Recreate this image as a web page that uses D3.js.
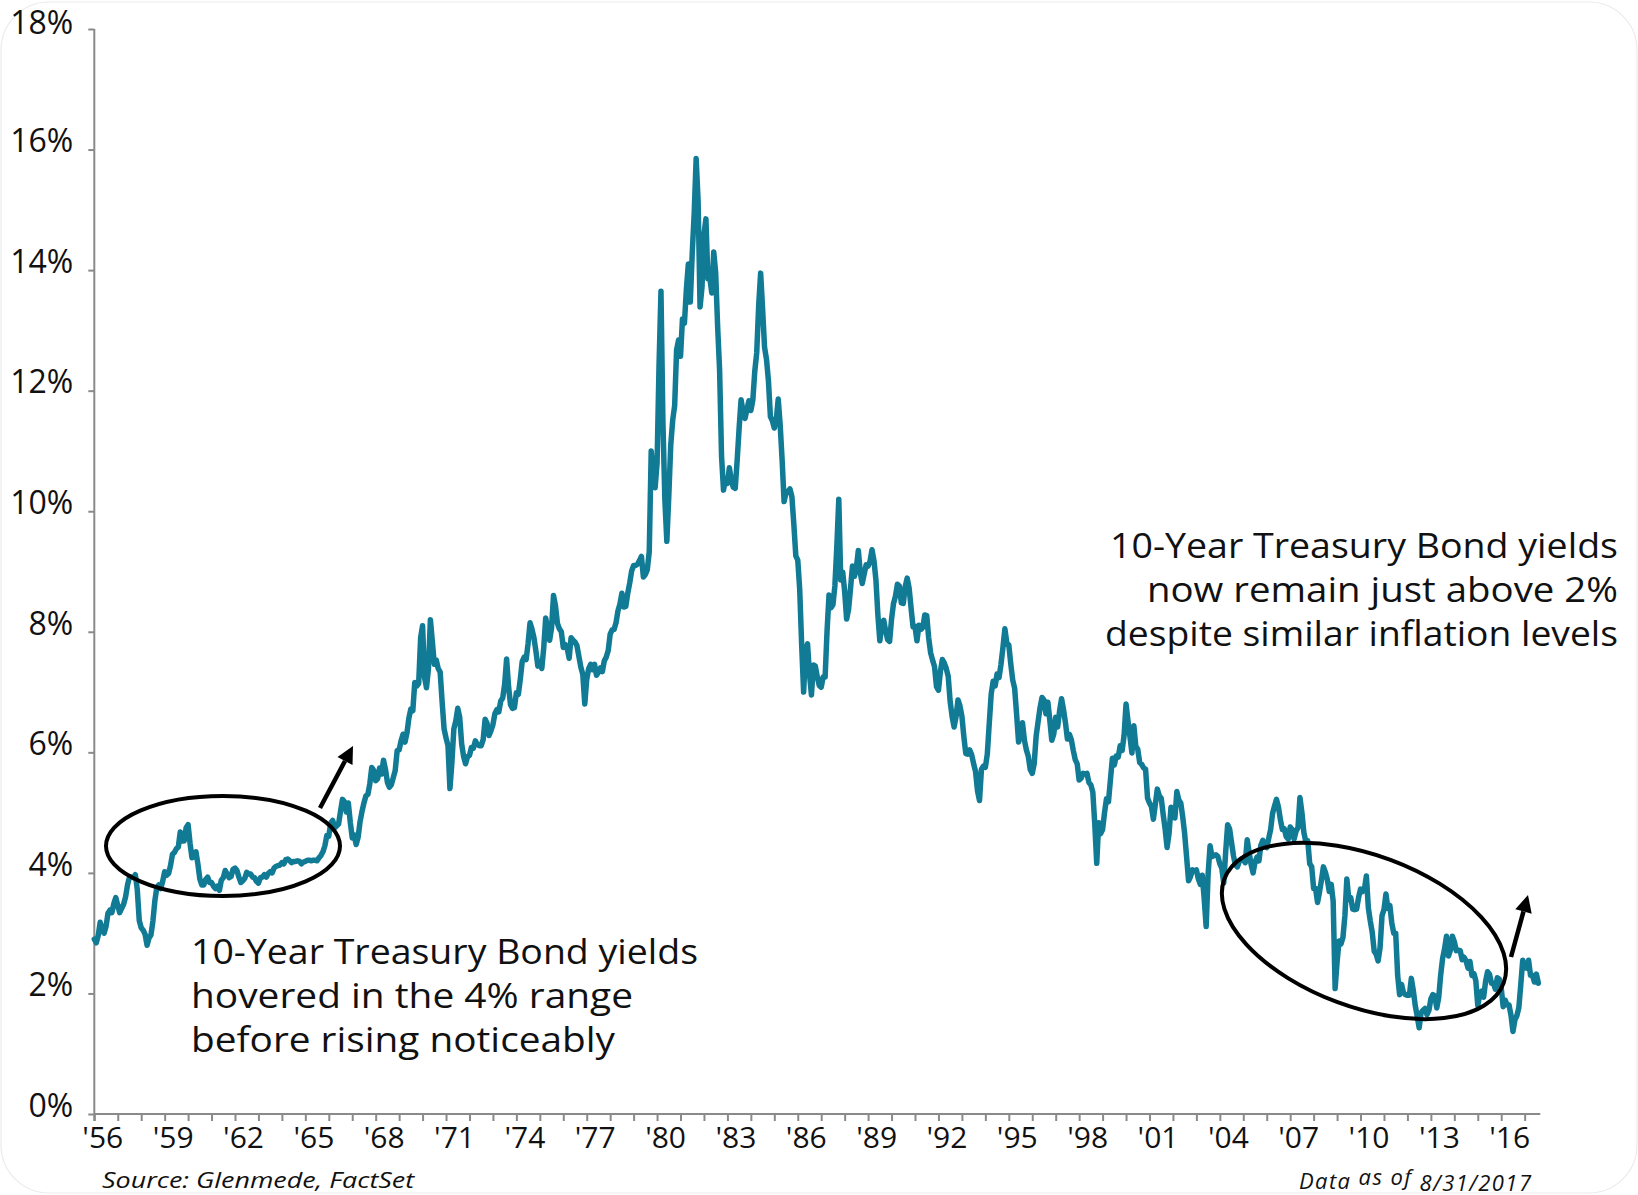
<!DOCTYPE html>
<html>
<head>
<meta charset="utf-8">
<script src="https://cdn.jsdelivr.net/npm/d3@7"></script>
<style>
  html, body { margin: 0; padding: 0; background: #ffffff; }
  svg { display: block; }
  text { font-family: "Open Sans", "DejaVu Sans", sans-serif; fill: #111; }
</style>
</head>
<body>
<script>
// 10-Year Treasury yield (%), monthly, starting January 1956
const yields1950s = [
  2.90, 2.84, 2.96, 3.18, 3.07, 3.00, 3.11, 3.33, 3.38, 3.34, 3.49, 3.59, // 1956
  3.46, 3.34, 3.41, 3.48, 3.60, 3.80, 3.93, 3.93, 3.92, 3.97, 3.72, 3.21, // 1957
  3.09, 3.05, 2.98, 2.80, 2.92, 2.97, 3.20, 3.54, 3.76, 3.80, 3.74, 3.86, // 1958
  4.02, 3.96, 3.99, 4.12, 4.31, 4.34, 4.40, 4.43, 4.68, 4.53, 4.53, 4.75  // 1959
];
const yields1960s = [
  4.80, 4.49, 4.25, 4.28, 4.35, 4.15, 3.90, 3.80, 3.80, 3.89, 3.93, 3.84, // 1960
  3.84, 3.78, 3.74, 3.78, 3.71, 3.88, 3.92, 4.04, 3.98, 3.92, 3.94, 4.06, // 1961
  4.08, 4.04, 3.93, 3.84, 3.87, 3.91, 4.01, 3.98, 3.98, 3.93, 3.92, 3.86, // 1962
  3.83, 3.92, 3.93, 3.97, 3.93, 3.99, 4.02, 4.00, 4.08, 4.11, 4.12, 4.13, // 1963
  4.17, 4.15, 4.22, 4.23, 4.20, 4.17, 4.19, 4.19, 4.20, 4.19, 4.15, 4.18, // 1964
  4.19, 4.21, 4.21, 4.20, 4.21, 4.21, 4.20, 4.25, 4.29, 4.35, 4.45, 4.62, // 1965
  4.61, 4.83, 4.87, 4.75, 4.78, 4.81, 5.02, 5.22, 5.18, 5.01, 5.16, 4.84, // 1966
  4.58, 4.63, 4.47, 4.59, 4.85, 5.02, 5.16, 5.28, 5.30, 5.48, 5.75, 5.70, // 1967
  5.53, 5.56, 5.74, 5.64, 5.87, 5.72, 5.50, 5.42, 5.46, 5.58, 5.70, 6.03, // 1968
  6.04, 6.19, 6.30, 6.17, 6.32, 6.57, 6.72, 6.69, 7.16, 7.10, 7.14, 7.90  // 1969
];
const yields1970s = [
  8.10, 7.24, 7.07, 7.39, 8.20, 7.84, 7.46, 7.53, 7.39, 7.33, 6.84, 6.39, // 1970
  6.24, 6.11, 5.40, 5.83, 6.39, 6.52, 6.73, 6.58, 6.14, 5.93, 5.81, 5.93, // 1971
  5.95, 6.08, 6.07, 6.19, 6.13, 6.11, 6.11, 6.21, 6.55, 6.48, 6.28, 6.36, // 1972
  6.46, 6.64, 6.71, 6.67, 6.85, 6.90, 7.13, 7.55, 7.09, 6.79, 6.73, 6.74, // 1973
  6.99, 6.96, 7.21, 7.51, 7.58, 7.54, 7.81, 8.15, 8.04, 7.90, 7.68, 7.43, // 1974
  7.50, 7.39, 7.73, 8.23, 8.06, 7.86, 8.06, 8.60, 8.43, 8.14, 8.05, 8.00, // 1975
  7.74, 7.79, 7.73, 7.56, 7.90, 7.86, 7.83, 7.77, 7.59, 7.41, 7.29, 6.80, // 1976
  7.21, 7.39, 7.46, 7.37, 7.46, 7.28, 7.33, 7.40, 7.34, 7.52, 7.58, 7.69, // 1977
  7.96, 8.03, 8.04, 8.15, 8.35, 8.46, 8.64, 8.41, 8.42, 8.64, 8.81, 9.01, // 1978
  9.10, 9.10, 9.12, 9.18, 9.25, 8.91, 8.95, 9.03, 9.33, 11.0, 10.65, 10.39 // 1979
];
const yields1980s = [
  10.80, 12.41, 13.65, 11.47, 10.18, 9.50, 10.25, 11.10, 11.51, 11.75, 12.68, 12.84, // 1980
  12.57, 13.19, 13.12, 13.68, 14.10, 13.47, 14.28, 14.94, 15.85, 15.15, 13.39, 13.72, // 1981
  14.59, 14.85, 13.86, 13.87, 13.62, 14.30, 13.95, 13.06, 12.34, 10.91, 10.35, 10.54, // 1982
  10.46, 10.72, 10.51, 10.40, 10.38, 10.85, 11.38, 11.85, 11.65, 11.54, 11.69, 11.83, // 1983
  11.67, 11.84, 12.32, 12.63, 13.41, 13.95, 13.36, 12.72, 12.52, 12.16, 11.57, 11.50, // 1984
  11.38, 11.51, 11.86, 11.43, 10.85, 10.16, 10.31, 10.33, 10.37, 10.24, 9.78, 9.26,   // 1985
  9.19, 8.70, 7.78, 7.00, 7.71, 7.80, 7.30, 6.95, 7.45, 7.43, 7.25, 7.11,             // 1986
  7.08, 7.25, 7.25, 8.02, 8.61, 8.40, 8.45, 8.76, 9.42, 10.20, 8.86, 8.99,            // 1987
  8.67, 8.21, 8.37, 8.72, 9.09, 8.92, 9.06, 9.35, 8.98, 8.80, 8.96, 9.11,             // 1988
  9.09, 9.17, 9.36, 9.18, 8.86, 8.28, 7.85, 8.11, 8.19, 8.01, 7.87, 7.84              // 1989
];
const yields1990s = [
  8.21, 8.47, 8.59, 8.79, 8.76, 8.48, 8.47, 8.75, 8.89, 8.72, 8.39, 8.08, // 1990
  8.09, 7.85, 8.11, 8.04, 8.07, 8.28, 8.27, 7.90, 7.65, 7.53, 7.42, 7.09, // 1991
  7.03, 7.34, 7.54, 7.48, 7.39, 7.26, 6.84, 6.59, 6.42, 6.59, 6.87, 6.77, // 1992
  6.60, 6.26, 5.98, 5.97, 6.04, 5.96, 5.81, 5.68, 5.36, 5.20, 5.72, 5.77, // 1993
  5.75, 5.97, 6.48, 6.97, 7.18, 7.10, 7.30, 7.24, 7.46, 7.74, 8.05, 7.81, // 1994
  7.78, 7.47, 7.20, 7.06, 6.63, 6.17, 6.28, 6.49, 6.20, 6.04, 5.93, 5.71, // 1995
  5.65, 5.81, 6.27, 6.51, 6.74, 6.91, 6.87, 6.64, 6.83, 6.53, 6.20, 6.30, // 1996
  6.58, 6.42, 6.69, 6.89, 6.71, 6.49, 6.22, 6.30, 6.21, 6.03, 5.88, 5.81, // 1997
  5.54, 5.57, 5.65, 5.64, 5.65, 5.50, 5.46, 5.34, 4.81, 4.16, 4.83, 4.65, // 1998
  4.72, 5.00, 5.23, 5.18, 5.54, 5.90, 5.79, 5.94, 5.92, 6.11, 6.03, 6.28  // 1999
];
const yields2000s = [
  6.80, 6.52, 6.26, 5.99, 6.44, 6.10, 6.05, 5.83, 5.80, 5.74, 5.72, 5.24, // 2000
  5.16, 5.10, 4.89, 5.14, 5.39, 5.28, 5.24, 4.97, 4.73, 4.42, 4.65, 5.09, // 2001
  5.04, 4.91, 5.35, 5.21, 5.16, 4.93, 4.65, 4.26, 3.87, 3.94, 4.05, 4.03, // 2002
  4.05, 3.90, 3.81, 3.96, 3.57, 3.11, 3.98, 4.45, 4.27, 4.29, 4.30, 4.27, // 2003
  4.15, 4.08, 3.83, 4.35, 4.80, 4.73, 4.50, 4.28, 4.13, 4.10, 4.19, 4.23, // 2004
  4.22, 4.17, 4.55, 4.34, 4.14, 4.00, 4.18, 4.26, 4.20, 4.46, 4.54, 4.47, // 2005
  4.42, 4.57, 4.72, 4.99, 5.11, 5.22, 5.09, 4.88, 4.72, 4.73, 4.60, 4.56, // 2006
  4.76, 4.72, 4.56, 4.69, 4.75, 5.25, 5.00, 4.67, 4.52, 4.53, 4.15, 4.10, // 2007
  3.74, 3.74, 3.51, 3.68, 3.88, 4.10, 4.01, 3.89, 3.69, 3.81, 3.53, 2.08, // 2008
  2.52, 2.87, 2.82, 2.93, 3.29, 3.90, 3.56, 3.59, 3.40, 3.39, 3.40, 3.59  // 2009
];
const yields2010s = [
  3.73, 3.69, 3.73, 3.95, 3.42, 3.20, 3.01, 2.70, 2.65, 2.54, 2.76, 3.29, // 2010
  3.39, 3.65, 3.41, 3.46, 3.17, 3.00, 3.00, 2.30, 1.98, 2.15, 2.01, 1.98, // 2011
  1.97, 1.97, 2.25, 2.05, 1.80, 1.62, 1.43, 1.68, 1.72, 1.75, 1.65, 1.72, // 2012
  1.91, 1.98, 1.96, 1.76, 1.93, 2.30, 2.58, 2.74, 2.95, 2.62, 2.72, 2.95, // 2013
  2.86, 2.71, 2.72, 2.71, 2.56, 2.60, 2.54, 2.42, 2.53, 2.30, 2.33, 2.21, // 2014
  1.80, 1.98, 2.04, 1.94, 2.20, 2.36, 2.32, 2.17, 2.17, 2.07, 2.26, 2.24, // 2015
  2.09, 1.78, 1.89, 1.81, 1.81, 1.64, 1.37, 1.56, 1.63, 1.76, 2.14, 2.55, // 2016
  2.43, 2.42, 2.55, 2.30, 2.30, 2.19, 2.32, 2.17                          // 2017 (Jan-Aug)
];
const monthlyYields = [].concat(yields1950s, yields1960s, yields1970s, yields1980s, yields1990s, yields2000s, yields2010s);
const firstYear = 1956;

// Axis ticks and labels
const pctTicks = [0, 2, 4, 6, 8, 10, 12, 14, 16, 18];
const yearTicks = d3.range(1956, 2018);
const labelYears = [1956, 1959, 1962, 1965, 1968, 1971, 1974, 1977, 1980, 1983, 1986, 1989, 1992, 1995, 1998, 2001, 2004, 2007, 2010, 2013, 2016];

// Annotation copy
const noteLeft = ["10-Year Treasury Bond yields", "hovered in the 4% range", "before rising noticeably"];
const noteRight = ["10-Year Treasury Bond yields", "now remain just above 2%", "despite similar inflation levels"];
const sourceText = "Source: Glenmede, FactSet";
const asOfParts = ["Data ", "as of ", "8/31/2017"];

// ---- layout ----
const W = 1638, H = 1195;
const lineColor = "#117a95";

const svg = d3.select("body").append("svg")
  .attr("width", W).attr("height", H)
  .attr("viewBox", `0 0 ${W} ${H}`);

svg.append("rect").attr("width", W).attr("height", H).attr("fill", "#fff");

// faint rounded frame
svg.append("rect")
  .attr("x", 1).attr("y", 2).attr("width", W - 2).attr("height", H - 4)
  .attr("rx", 48).attr("ry", 48)
  .attr("fill", "none").attr("stroke", "#ebebeb").attr("stroke-width", 1.2);

const x = d3.scaleLinear().domain([1956, 2017 + 8 / 12]).range([94.3, 1540.3]);
const y = d3.scaleLinear().domain([0, 18]).range([1114, 29]);

const series = monthlyYields.map((v, i) => ({ t: firstYear + i / 12, v }));

// y axis
const yAxis = svg.append("g")
  .attr("transform", `translate(${x.range()[0]},0)`)
  .call(d3.axisLeft(y).tickValues(pctTicks).tickSize(6).tickSizeOuter(0)
    .tickPadding(15).tickFormat(d => d + "%"));
yAxis.select(".domain").remove();
yAxis.append("line")
  .attr("x1", 0).attr("x2", 0).attr("y1", y(18)).attr("y2", y(0) + 7)
  .attr("stroke", "#8a8a8a").attr("stroke-width", 2);
yAxis.selectAll(".tick line").attr("stroke", "#8a8a8a").attr("stroke-width", 2);
yAxis.selectAll(".tick text")
  .attr("font-size", 32)
  .attr("fill", "#111")
  .attr("font-family", "Open Sans")
  .attr("transform", d => `translate(0,${d === 18 ? -6 : -8})`);

// x axis
const xAxis = svg.append("g")
  .attr("transform", `translate(0,${y(0)})`)
  .call(d3.axisBottom(x).tickValues(yearTicks).tickSize(7).tickSizeOuter(0)
    .tickFormat(d => labelYears.includes(d) ? "'" + String(d).slice(2) : ""));
xAxis.select(".domain").remove();
xAxis.append("line")
  .attr("x1", x.range()[0]).attr("x2", x.range()[1])
  .attr("y1", 0).attr("y2", 0)
  .attr("stroke", "#8a8a8a").attr("stroke-width", 2);
xAxis.selectAll(".tick line").attr("stroke", "#8a8a8a").attr("stroke-width", 2);
xAxis.selectAll(".tick text")
  .attr("font-size", 30)
  .attr("fill", "#111")
  .attr("font-family", "Open Sans")
  .attr("y", 34).attr("dy", 0)
  .attr("x", 8);

// yield line
const line = d3.line().x(d => x(d.t)).y(d => y(d.v));
svg.append("path")
  .datum(series)
  .attr("d", line)
  .attr("fill", "none")
  .attr("stroke", lineColor)
  .attr("stroke-width", 5.5)
  .attr("stroke-linejoin", "round")
  .attr("stroke-linecap", "round");

// callout ellipses
svg.append("ellipse")
  .attr("cx", 223).attr("cy", 846).attr("rx", 117).attr("ry", 50)
  .attr("fill", "none").attr("stroke", "#000").attr("stroke-width", 4);
svg.append("ellipse")
  .attr("cx", 0).attr("cy", 0).attr("rx", 149).attr("ry", 76)
  .attr("transform", "translate(1364,931) rotate(20.4)")
  .attr("fill", "none").attr("stroke", "#000").attr("stroke-width", 4);

// arrows
function arrow(x1, y1, x2, y2) {
  const dx = x2 - x1, dy = y2 - y1, len = Math.hypot(dx, dy);
  const ux = dx / len, uy = dy / len;
  const headL = 17, headW = 8.5;
  const bx = x2 - ux * headL, by = y2 - uy * headL;
  svg.append("line")
    .attr("x1", x1).attr("y1", y1).attr("x2", bx).attr("y2", by)
    .attr("stroke", "#000").attr("stroke-width", 4.5);
  svg.append("path")
    .attr("d", `M${x2},${y2}L${bx - uy * headW},${by + ux * headW}L${bx + uy * headW},${by - ux * headW}Z`)
    .attr("fill", "#000");
}
arrow(320, 808, 353, 746);
arrow(1511, 957, 1528, 895);

// annotations
const leftWidths = [507, 442, 424];
noteLeft.forEach((s, i) => {
  svg.append("text")
    .attr("x", 191).attr("y", 964 + i * 44)
    .attr("font-size", 35)
    .attr("textLength", leftWidths[i]).attr("lengthAdjust", "spacingAndGlyphs")
    .text(s);
});
const rightWidths = [508, 471, 513];
noteRight.forEach((s, i) => {
  svg.append("text")
    .attr("x", 1618 - rightWidths[i]).attr("y", 558 + i * 44)
    .attr("font-size", 35)
    .attr("textLength", rightWidths[i]).attr("lengthAdjust", "spacingAndGlyphs")
    .text(s);
});

// footer
svg.append("text")
  .attr("x", 102).attr("y", 1188)
  .attr("font-size", 21).attr("font-style", "italic")
  .attr("textLength", 312).attr("lengthAdjust", "spacingAndGlyphs")
  .text(sourceText);

// "Data as of 8/31/2017": one line, the middle words sit a little higher
const asOf = svg.append("text")
  .attr("x", 1299).attr("y", 1189)
  .attr("font-size", 22).attr("font-style", "italic")
  .attr("textLength", 232).attr("lengthAdjust", "spacing");
const asOfDy = [0, -4, 6];
asOfParts.forEach((s, i) => {
  asOf.append("tspan").attr("dy", asOfDy[i]).text(s);
});
</script>
</body>
</html>
